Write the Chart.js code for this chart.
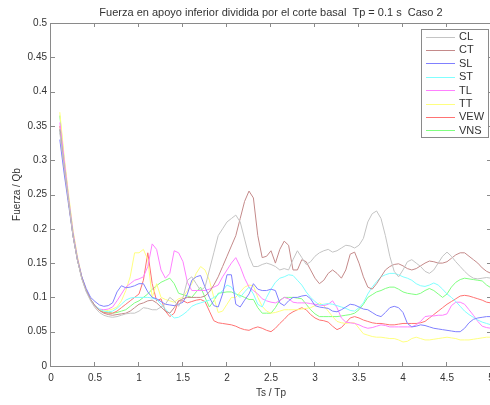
<!DOCTYPE html>
<html>
<head>
<meta charset="utf-8">
<script src="https://cdn.jsdelivr.net/npm/chart.js@4/dist/chart.umd.min.js"></script>
<style>
  html, body { margin: 0; padding: 0; background: #fff; overflow: hidden; }
  #wrap { width: 500px; height: 405px; }
</style>
</head>
<body>
<div id="wrap"><canvas id="grafico" width="500" height="405"></canvas></div>
<script>
// Periodo Ts/Tp, de 0.1 a 5.0 cada 0.05
const tsTp = Array.from({ length: 99 }, (_, i) => +(0.1 + i * 0.05).toFixed(2));

const serieCL = [
  0.34, 0.29, 0.24, 0.19, 0.155, 0.127, 0.108, 0.095, 0.085, 0.078,
  0.074, 0.072, 0.071, 0.072, 0.074, 0.076, 0.077, 0.077, 0.08, 0.085,
  0.084, 0.082, 0.082, 0.086, 0.09, 0.1, 0.095, 0.087, 0.1, 0.125,
  0.13, 0.12, 0.11, 0.115, 0.14, 0.165, 0.19, 0.2, 0.21, 0.215,
  0.22, 0.21, 0.185, 0.16, 0.145, 0.145, 0.148, 0.15, 0.148, 0.145,
  0.14, 0.142, 0.14, 0.155, 0.168, 0.158, 0.148, 0.152, 0.16, 0.165,
  0.168, 0.17, 0.166, 0.168, 0.172, 0.176, 0.175, 0.172, 0.176, 0.186,
  0.21, 0.222, 0.226, 0.215, 0.19, 0.16, 0.138, 0.13, 0.14, 0.152,
  0.155, 0.15, 0.145, 0.138, 0.135, 0.14, 0.15, 0.16, 0.166, 0.16,
  0.152, 0.145, 0.138, 0.132, 0.128, 0.127, 0.128, 0.129, 0.128
];
const serieCT = [
  0.345, 0.29, 0.24, 0.19, 0.155, 0.128, 0.11, 0.097, 0.088, 0.081,
  0.077, 0.075, 0.074, 0.075, 0.076, 0.077, 0.08, 0.085, 0.09, 0.092,
  0.095, 0.096, 0.092, 0.086, 0.08, 0.077, 0.085, 0.095, 0.098, 0.1,
  0.1, 0.1, 0.1, 0.102, 0.108, 0.118, 0.13, 0.145, 0.16, 0.175,
  0.19, 0.215, 0.24, 0.255, 0.245, 0.19, 0.158, 0.16, 0.168, 0.15,
  0.17, 0.182, 0.176, 0.14, 0.14, 0.155, 0.152, 0.14, 0.128, 0.12,
  0.125, 0.135, 0.14, 0.135, 0.128, 0.14, 0.163, 0.166, 0.15, 0.13,
  0.115, 0.112, 0.12, 0.13, 0.14, 0.145, 0.148, 0.149, 0.146, 0.142,
  0.14, 0.142, 0.146, 0.15, 0.153, 0.152, 0.15, 0.15, 0.152, 0.157,
  0.162, 0.165, 0.165, 0.16, 0.155, 0.15, 0.143, 0.138, 0.135
];
const serieSL = [
  0.33, 0.28, 0.235, 0.19, 0.155, 0.13, 0.113, 0.1, 0.094, 0.089,
  0.087, 0.088, 0.092, 0.108, 0.117, 0.114, 0.115, 0.117, 0.12, 0.12,
  0.108, 0.1, 0.098, 0.094, 0.09, 0.089, 0.088, 0.09, 0.093, 0.105,
  0.125, 0.13, 0.132, 0.115, 0.1, 0.088, 0.086, 0.105, 0.133, 0.133,
  0.09, 0.086, 0.096, 0.105, 0.12, 0.112, 0.11, 0.11, 0.112, 0.11,
  0.092, 0.088, 0.095, 0.1, 0.1, 0.102, 0.103, 0.098, 0.088, 0.086,
  0.085, 0.084, 0.08, 0.079, 0.082, 0.086, 0.09, 0.089, 0.086, 0.083,
  0.082, 0.078, 0.074, 0.072, 0.078, 0.085, 0.087, 0.085, 0.078, 0.062,
  0.057, 0.058, 0.06, 0.059, 0.057, 0.055, 0.054, 0.053, 0.052, 0.051,
  0.05, 0.05, 0.055, 0.063, 0.068, 0.07, 0.071, 0.072, 0.072
];
const serieST = [
  0.345, 0.29, 0.24, 0.19, 0.155, 0.128, 0.11, 0.097, 0.088, 0.083,
  0.08, 0.079, 0.08, 0.084, 0.09, 0.096, 0.099, 0.1, 0.1, 0.1,
  0.1, 0.099, 0.097, 0.09, 0.083, 0.076, 0.07, 0.071, 0.075, 0.08,
  0.087, 0.09, 0.092, 0.094, 0.096, 0.1, 0.104, 0.11, 0.118, 0.115,
  0.105, 0.1, 0.108, 0.115, 0.105, 0.09, 0.086, 0.1, 0.112, 0.122,
  0.128, 0.13, 0.133, 0.132, 0.125, 0.118, 0.108, 0.1, 0.094, 0.089,
  0.09, 0.091, 0.09, 0.088, 0.086, 0.084, 0.081, 0.08, 0.085, 0.092,
  0.105, 0.115, 0.123, 0.13, 0.133, 0.135, 0.135, 0.133, 0.13, 0.128,
  0.125, 0.12, 0.117, 0.116, 0.118, 0.121, 0.118, 0.112, 0.105, 0.1,
  0.094, 0.087, 0.08, 0.075, 0.071, 0.067, 0.064, 0.062, 0.06
];
const serieTL = [
  0.355, 0.3, 0.245, 0.195, 0.158, 0.13, 0.11, 0.097, 0.088, 0.083,
  0.082, 0.083, 0.086, 0.095, 0.105, 0.115, 0.12, 0.125, 0.127, 0.13,
  0.145, 0.178, 0.17, 0.14, 0.128, 0.135, 0.168, 0.165, 0.152, 0.122,
  0.11, 0.11, 0.11, 0.11, 0.112, 0.115, 0.118, 0.13, 0.14, 0.15,
  0.158, 0.145, 0.128, 0.115, 0.11, 0.105, 0.098, 0.095, 0.093, 0.092,
  0.095, 0.1, 0.098, 0.093, 0.092, 0.092, 0.092, 0.091, 0.09, 0.089,
  0.088, 0.09, 0.095, 0.085, 0.07, 0.064, 0.063, 0.062, 0.06, 0.057,
  0.055, 0.056, 0.058, 0.06, 0.059, 0.057, 0.057, 0.057, 0.057, 0.057,
  0.057, 0.06, 0.065, 0.072, 0.073, 0.073, 0.074, 0.074, 0.076, 0.088,
  0.093, 0.093, 0.09, 0.082, 0.074, 0.065, 0.058, 0.056, 0.055
];
const serieTT = [
  0.37, 0.305, 0.25, 0.198, 0.16, 0.13, 0.11, 0.097, 0.088, 0.082,
  0.08, 0.081, 0.083, 0.086, 0.095, 0.11, 0.13, 0.165, 0.165, 0.17,
  0.155, 0.1, 0.12, 0.1, 0.097, 0.095, 0.093, 0.098, 0.1, 0.11,
  0.12, 0.135, 0.145, 0.14, 0.125, 0.1, 0.078, 0.08, 0.09, 0.1,
  0.1, 0.108, 0.115, 0.118, 0.117, 0.1, 0.087, 0.08, 0.077, 0.078,
  0.08, 0.082, 0.082, 0.082, 0.082, 0.083, 0.084, 0.085, 0.088, 0.092,
  0.088, 0.08, 0.072, 0.065, 0.063, 0.062, 0.063, 0.063, 0.055, 0.047,
  0.045, 0.043, 0.042, 0.042, 0.041, 0.04, 0.04, 0.038, 0.035, 0.036,
  0.04, 0.042, 0.04, 0.038, 0.038, 0.039, 0.04, 0.041, 0.042, 0.041,
  0.04, 0.038, 0.038, 0.038, 0.039, 0.04, 0.041, 0.042, 0.042
];
const serieVEW = [
  0.35, 0.295, 0.24, 0.19, 0.155, 0.128, 0.11, 0.097, 0.087, 0.081,
  0.078, 0.077, 0.077, 0.08, 0.085, 0.09, 0.095, 0.1, 0.105, 0.125,
  0.165, 0.12, 0.095, 0.098, 0.08, 0.072, 0.077, 0.095, 0.095, 0.092,
  0.094, 0.096, 0.097, 0.094, 0.08, 0.066, 0.063, 0.062, 0.061, 0.06,
  0.058, 0.055, 0.053, 0.052, 0.055, 0.057, 0.055, 0.052, 0.05, 0.055,
  0.062, 0.068, 0.075, 0.079, 0.082, 0.085, 0.082, 0.075, 0.07, 0.067,
  0.066, 0.064, 0.058, 0.053, 0.056, 0.063, 0.07, 0.072, 0.07, 0.067,
  0.065, 0.063, 0.062, 0.062, 0.061, 0.06, 0.06, 0.061, 0.062, 0.062,
  0.062, 0.062, 0.063, 0.065, 0.07, 0.075, 0.08, 0.085, 0.09, 0.094,
  0.098, 0.102, 0.103, 0.102, 0.1, 0.098, 0.096, 0.093, 0.092
];
const serieVNS = [
  0.365, 0.3, 0.245, 0.195, 0.157, 0.13, 0.11, 0.097, 0.088, 0.082,
  0.079, 0.078, 0.077, 0.078, 0.08, 0.082, 0.087, 0.092, 0.095, 0.1,
  0.105, 0.112, 0.117, 0.122, 0.125, 0.128, 0.12, 0.106, 0.104, 0.102,
  0.1, 0.108, 0.115, 0.1, 0.086, 0.095, 0.106, 0.107, 0.108, 0.108,
  0.105, 0.103, 0.1, 0.097, 0.097, 0.085, 0.077, 0.077, 0.077, 0.085,
  0.096, 0.1, 0.1, 0.1, 0.099, 0.098, 0.09, 0.082, 0.076, 0.072,
  0.072, 0.072, 0.072, 0.072, 0.073, 0.074, 0.075, 0.077, 0.082, 0.09,
  0.1, 0.104, 0.108, 0.11, 0.113, 0.115, 0.115, 0.112, 0.108, 0.106,
  0.105, 0.104, 0.106, 0.11, 0.113, 0.11, 0.105, 0.1, 0.105, 0.115,
  0.122, 0.126, 0.128, 0.127, 0.126, 0.125, 0.124, 0.118, 0.114
];

const nombres = ['CL', 'CT', 'SL', 'ST', 'TL', 'TT', 'VEW', 'VNS'];
const series = [serieCL, serieCT, serieSL, serieST, serieTL, serieTT, serieVEW, serieVNS];
const colores = ['#c4c4c4', '#c48a8a', '#8080ff', '#80ffff', '#ff80ff', '#ffff80', '#ff7373', '#80ff80'];

const ticksX = [0, 0.5, 1, 1.5, 2, 2.5, 3, 3.5, 4, 4.5, 5];
const ticksY = [0, 0.05, 0.1, 0.15, 0.2, 0.25, 0.3, 0.35, 0.4, 0.45, 0.5];

const titulo = 'Fuerza en apoyo inferior dividida por el corte basal  Tp = 0.1 s  Caso 2';
const fuente = 'Arial, "Liberation Sans", Helvetica, sans-serif';
const colorEje = '#8a8a8a';
const colorTexto = '#333';

// Caja de ejes con marcas hacia adentro, título y leyenda dentro del gráfico
const cajaEjes = {
    id: 'cajaEjes',
    afterDatasetsDraw(chart) {
        const { ctx, chartArea: a, scales } = chart;
        ctx.save();
        ctx.strokeStyle = colorEje;
        ctx.lineWidth = 1;
        ctx.strokeRect(Math.round(a.left) - 0.5, Math.round(a.top) + 0.5,
            Math.round(a.right - a.left), Math.round(a.bottom - a.top));

        const largo = 4;
        ctx.beginPath();
        ticksX.forEach(v => {
            const px = Math.round(scales.x.getPixelForValue(v)) - 0.5;
            ctx.moveTo(px, a.bottom); ctx.lineTo(px, a.bottom - largo);
            ctx.moveTo(px, a.top); ctx.lineTo(px, a.top + largo);
        });
        ticksY.forEach(v => {
            const py = Math.round(scales.y.getPixelForValue(v)) + 0.5;
            ctx.moveTo(a.left, py); ctx.lineTo(a.left + largo, py);
            ctx.moveTo(a.right, py); ctx.lineTo(a.right - largo, py);
        });
        ctx.stroke();

        // Título centrado sobre el área de trazado
        ctx.fillStyle = colorTexto;
        ctx.font = '11px ' + fuente;
        ctx.textAlign = 'center';
        ctx.textBaseline = 'middle';
        ctx.fillText(titulo, (a.left + a.right) / 2, 13);

        // Leyenda
        const lx = 421, ly = 29, lw = 67, lh = 108;
        ctx.fillStyle = '#fff';
        ctx.fillRect(lx, ly, lw, lh);
        ctx.strokeStyle = colorEje;
        ctx.strokeRect(lx + 0.5, ly + 0.5, lw, lh);
        ctx.font = '11px ' + fuente;
        ctx.textAlign = 'left';
        chart.data.datasets.forEach((ds, i) => {
            const y = 36.5 + i * 13.4;
            ctx.strokeStyle = ds.borderColor;
            ctx.beginPath();
            ctx.moveTo(426, Math.round(y) + 0.5);
            ctx.lineTo(455, Math.round(y) + 0.5);
            ctx.stroke();
            ctx.fillStyle = colorTexto;
            ctx.fillText(ds.label, 459, y + 0.5);
        });
        ctx.restore();
    }
};

const datasets = nombres.map((nombre, i) => ({
    label: nombre,
    data: tsTp.map((x, k) => ({ x: x, y: series[i][k] })),
    borderColor: colores[i],
    borderWidth: 1,
    pointRadius: 0,
    tension: 0,
    fill: false
}));

new Chart(document.getElementById('grafico'), {
    type: 'line',
    data: { datasets: datasets },
    options: {
        responsive: false,
        animation: false,
        events: [],
        layout: { padding: { top: 23, right: 9, left: 0, bottom: 0 } },
        plugins: {
            legend: { display: false },
            title: { display: false },
            tooltip: { enabled: false }
        },
        scales: {
            x: {
                type: 'linear',
                min: 0,
                max: 5,
                afterBuildTicks: s => { s.ticks = ticksX.map(v => ({ value: v })); },
                afterFit: s => { s.height = 39; },
                grid: { display: false, drawTicks: false },
                border: { display: false },
                ticks: {
                    padding: 6,
                    color: colorTexto,
                    font: { size: 10, family: fuente },
                    maxRotation: 0,
                    autoSkip: false,
                    callback: v => String(v)
                },
                title: {
                    display: true,
                    text: 'Ts / Tp',
                    color: colorTexto,
                    font: { size: 10, family: fuente },
                    padding: { bottom: 6, top: 0 }
                }
            },
            y: {
                type: 'linear',
                min: 0,
                max: 0.5,
                afterBuildTicks: s => { s.ticks = ticksY.map(v => ({ value: v })); },
                afterFit: s => { s.width = 51; },
                grid: { display: false, drawTicks: false },
                border: { display: false },
                ticks: {
                    padding: 4,
                    color: colorTexto,
                    font: { size: 10, family: fuente },
                    autoSkip: false,
                    callback: v => String(+v.toFixed(2))
                },
                title: {
                    display: true,
                    text: 'Fuerza / Qb',
                    color: colorTexto,
                    font: { size: 10, family: fuente },
                    padding: { top: 11, bottom: 0 }
                }
            }
        }
    },
    plugins: [cajaEjes]
});
</script>
</body>
</html>
